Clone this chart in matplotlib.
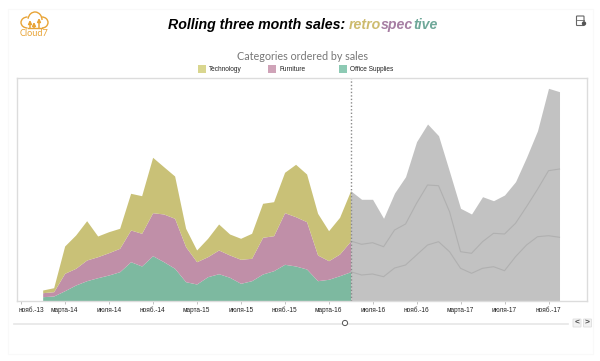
import matplotlib
matplotlib.use("Agg")
import matplotlib.pyplot as plt
from matplotlib.patches import Rectangle, Circle, FancyBboxPatch, Arc
from matplotlib.transforms import offset_copy
import numpy as np

W, H = 600, 361

# month index 0 = Nov-13, stacks start in Jan-14
months = np.arange(2, 50)
tick_pos = [0, 4, 8, 12, 16, 20, 24, 28, 32, 36, 40, 44, 48]
tick_labels = ["нояб.-13", "марта-14", "июля-14", "нояб.-14", "марта-15", "июля-15", "нояб.-15",
               "марта-16", "июля-16", "нояб.-16", "марта-17", "июля-17", "нояб.-17"]
cut = 30

# stacked levels
office = [4.3, 5, 10.3, 16, 20.3, 23.3, 26, 29.3, 39.3, 35, 45.3, 39.3,
          32.7, 19.3, 17, 24.3, 27.3, 23.7, 17.7, 20.3, 27, 30.3, 36.7, 35,
          32, 20.3, 21.7, 25.3, 29.3, 26, 27, 24.3, 33, 36, 46, 56,
          59.3, 49.3, 32.7, 27.7, 32.7, 34.3, 30.3, 44.3, 56, 64.3, 65.3, 63.7]
furniture_top = [8.3, 9.3, 27.7, 32.7, 41, 44.3, 48.3, 52.7, 71, 67.7, 88.3, 87,
                 82.7, 54.3, 39.3, 44.3, 51, 46, 41.7, 42.7, 63.7, 65.3, 88.3, 84.3,
                 79.3, 46, 40.3, 47, 60, 56.7, 58.3, 54.3, 71, 77, 97.7, 116,
                 115.3, 89.3, 49.3, 47.7, 59.3, 67.7, 67, 77.7, 94.3, 111.7, 130.3, 132]
technology_top = [11, 13.3, 55, 66, 80.3, 65, 69.3, 72.7, 107.7, 105.3, 143.7, 134.3,
                  125, 72.7, 51, 62.7, 77, 67, 62.7, 67.7, 97.7, 99.3, 128.7, 136.7,
                  127, 87.7, 70.3, 83.7, 110.3, 101.7, 101.7, 82.7, 108, 124.3, 159.3, 177,
                  165.3, 129.3, 92.7, 87, 104.3, 100.3, 106, 119.3, 143.7, 170.3, 212.7, 209.3]

plt.rcParams["font.family"] = ["Liberation Sans", "DejaVu Sans"]
fig = plt.figure(figsize=(W / 100, H / 100), dpi=100)

# overlay in pixel coordinates for the page furniture
ov = fig.add_axes([0, 0, 1, 1])
ov.set_xlim(0, W)
ov.set_ylim(H, 0)
ov.axis("off")
ov.add_patch(Rectangle((8, 9), 585, 345, fc="white", ec="#f9f9f9", lw=0.8))

ax = fig.add_axes([16.5 / W, 1 - 301 / H, (587 - 16.5) / W, (301 - 78) / H])
ax.set_xlim(-0.38, 51.5)
ax.set_ylim(0, 223)
for s in ax.spines.values():
    s.set_color("#dcdcdc")
    s.set_linewidth(1)

m = months
past = m <= cut
fut = m >= cut
low = np.array(office)
mid = np.array(furniture_top)
top = np.array(technology_top)
ax.fill_between(m[past], 0, low[past], color="#7db9a0", lw=0)
ax.fill_between(m[past], low[past], mid[past], color="#c08fa8", lw=0)
ax.fill_between(m[past], mid[past], top[past], color="#c9c177", lw=0)
ax.fill_between(m[fut], 0, top[fut], color="#c2c2c2", lw=0)
ax.plot(m[fut], low[fut], color="#b0b0b0", lw=0.8)
ax.plot(m[fut], mid[fut], color="#b0b0b0", lw=0.8)
ax.axvline(cut + 0.05, color="#8a8a8a", lw=1, ls=(0, (1, 1.5)))

ax.set_yticks([])
ax.set_xticks(tick_pos)
ax.set_xticklabels(tick_labels, fontsize=4.7, color="#222222")
ax.tick_params(axis="x", length=2, width=0.5, color="#aaaaaa", pad=2.2)
first = ax.get_xticklabels()[0]
first.set_horizontalalignment("left")
first.set_transform(offset_copy(first.get_transform(), fig=fig, x=-2.5, y=0, units="dots"))

# title, coloured pieces placed where they start in the picture
for x0, txt, col in [(168, "Rolling three month sales:", "black"), (349, "retro", "#cdbb6e"),
                     (381, "spec", "#a67ea3"), (413, "tive", "#6fa899")]:
    ov.text(x0, 25, txt, fontsize=10.2, fontweight="bold", fontstyle="italic", color=col,
            ha="left", va="center")

ov.text(302.5, 56, "Categories ordered by sales", fontsize=7.75, color="#777777", family="Lato",
        ha="center", va="center")

# legend
for px, name, col in [(197.5, "Technology", "#d9d68f"), (268, "Furniture", "#cfa3b8"),
                      (338.5, "Office Supplies", "#8dcab4")]:
    ov.add_patch(Rectangle((px, 65), 8, 8, fc=col, ec="none"))
    ov.text(px + 11, 69.5, name, fontsize=4.7, color="#222222", ha="left", va="center")

# Cloud7 logo
orange = "#e8a437"
ov.add_patch(Arc((27.5, 22.5), 13, 11, theta1=90, theta2=270, color=orange, lw=1))
ov.add_patch(Arc((35, 20), 14, 16, theta1=190, theta2=360, color=orange, lw=1))
ov.add_patch(Arc((42, 22.5), 12, 11, theta1=270, theta2=90, color=orange, lw=1))
ov.plot([27.5, 42], [28, 28], color=orange, lw=1)
for ax_x, tip in [(30, 20), (34, 22), (39, 18)]:
    ov.annotate("", xy=(ax_x, tip), xytext=(ax_x, 28),
                arrowprops=dict(arrowstyle="-|>", color=orange, lw=1.1, mutation_scale=5, shrinkA=0, shrinkB=0))
ov.text(34, 33.5, "Cloud7", fontsize=6.6, color=orange, family="Lato", ha="center", va="center")

# save icon, top right
ov.add_patch(FancyBboxPatch((577, 16.5), 6.5, 8.5, boxstyle="round,pad=0.5", fc="white", ec="#666666", lw=0.8))
ov.plot([577, 583.5], [19.5, 19.5], color="#666666", lw=0.6)
ov.add_patch(Circle((584, 23.5), 2.2, fc="#555555", ec="none"))

# slider and nav buttons
ov.plot([14, 568], [323.5, 323.5], color="#e6e6e6", lw=1.2)
ov.add_patch(Circle((345, 323), 2.6, fc="white", ec="#555555", lw=0.7, zorder=4))
for bx, label in [(577, "<"), (587.5, ">")]:
    ov.add_patch(FancyBboxPatch((bx - 3.5, 319.5), 7, 7, boxstyle="round,pad=0.5", fc="#f2f2f2", ec="#dddddd", lw=0.6))
    ov.text(bx, 322.8, label, fontsize=6, fontweight="bold", color="#444444", ha="center", va="center")

fig.savefig("out.png", dpi=100)
